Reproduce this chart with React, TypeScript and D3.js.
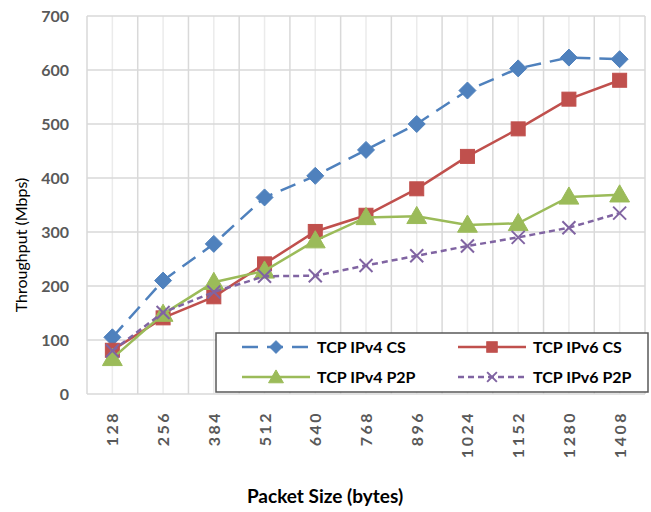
import React from "react";
import * as d3 from "d3";

const categories = ["128", "256", "384", "512", "640", "768", "896", "1024", "1152", "1280", "1408"];
const ipv4CS = [105, 210, 278, 364, 404, 452, 500, 562, 603, 623, 620];
const ipv6CS = [81, 141, 180, 241, 301, 331, 380, 440, 491, 546, 581];
const ipv4P2P = [66, 148, 207, 228, 284, 327, 329, 313, 316, 365, 369];
const ipv6P2P = [80, 151, 189, 218, 219, 238, 256, 274, 290, 308, 335];
const yTicks = [0, 100, 200, 300, 400, 500, 600, 700];

const W = 651, H = 512;
const left = 87, right = 645, top = 16, bottom = 394;

const x = d3.scaleBand<string>().domain(categories).range([left, right]).padding(0);
const y = d3.scaleLinear().domain([0, 700]).range([bottom, top]);

type S = { name: string; values: number[]; color: string; dash: string; marker: string; sw: number };
const series: S[] = [
  { name: "TCP IPv4 CS", values: ipv4CS, color: "#4f81bd", dash: "16,9", marker: "diamond", sw: 2.5 },
  { name: "TCP IPv6 CS", values: ipv6CS, color: "#c0504d", dash: "", marker: "square", sw: 2.5 },
  { name: "TCP IPv4 P2P", values: ipv4P2P, color: "#9bbb59", dash: "", marker: "triangle", sw: 2.5 },
  { name: "TCP IPv6 P2P", values: ipv6P2P, color: "#8064a2", dash: "6,4", marker: "x", sw: 2.5 },
];

function Marker({ kind, color, cx, cy, scale = 1 }: { kind: string; color: string; cx: number; cy: number; scale?: number }) {
  if (kind === "x") {
    const r = 6.5 * scale;
    return (
      <g transform={`translate(${cx},${cy})`} stroke={color} strokeWidth={2}>
        <line x1={-r} y1={-r} x2={r} y2={r} />
        <line x1={-r} y1={r} x2={r} y2={-r} />
      </g>
    );
  }
  if (kind === "diamond") {
    const r = 8.5 * scale;
    return <path d={`M0,${-r}L${r},0L0,${r}L${-r},0Z`} transform={`translate(${cx},${cy})`} fill={color} stroke={color} strokeWidth={1} />;
  }
  if (kind === "square") {
    const r = 7 * scale;
    return <rect x={cx - r} y={cy - r} width={2 * r} height={2 * r} fill={color} stroke={color} strokeWidth={1} />;
  }
  const path = d3.symbol().type(d3.symbolTriangle).size(170 * scale * scale)()!;
  return <path d={path} transform={`translate(${cx},${cy + 1.5})`} fill={color} stroke={color} strokeWidth={1} />;
}

export default function App() {
  const line = d3
    .line<number>()
    .x((_, i) => x(categories[i])! + x.bandwidth() / 2)
    .y((d) => y(d));
  const font = "Lato, 'Open Sans', sans-serif";
  const legendRows = [
    [series[0], series[1]],
    [series[2], series[3]],
  ];
  const colX = [242, 458];
  const rowY = [347, 377];
  return (
    <svg width={W} height={H} style={{ position: "absolute", left: 0, top: 0, background: "#fff" }} fontFamily={font}>
      {categories.map((c) => (
        <line key={"vc" + c} x1={x(c)! + x.bandwidth() / 2} x2={x(c)! + x.bandwidth() / 2} y1={top} y2={bottom} stroke="#ebebeb" strokeWidth={1.5} />
      ))}
      {categories.concat(["end"]).map((c, i) => {
        const xx = i < categories.length ? x(c)! : right;
        return <line key={"vb" + i} x1={xx} x2={xx} y1={top} y2={bottom} stroke="#d9d9d9" strokeWidth={1.5} />;
      })}
      {yTicks.map((t) => (
        <line key={"h" + t} x1={left} x2={right} y1={y(t)} y2={y(t)} stroke="#d9d9d9" strokeWidth={1.5} />
      ))}
      {yTicks.map((t) => (
        <text key={"yt" + t} x={69} y={y(t)} dy="0.36em" textAnchor="end" fontSize={16} fontWeight="bold" fill="#595959">
          {t}
        </text>
      ))}
      {categories.map((c) => {
        const cx = x(c)! + x.bandwidth() / 2;
        return (
          <text key={"xt" + c} transform={`translate(${cx + 6},${411}) rotate(-90)`} textAnchor="end" fontSize={16} fontWeight="bold" fill="#595959" letterSpacing={2.5}>
            {c}
          </text>
        );
      })}
      <text transform="translate(27,245) rotate(-90)" textAnchor="middle" fontSize={16} fill="#000">
        Throughput (Mbps)
      </text>
      <text x={325} y={503} textAnchor="middle" fontSize={19} fontWeight="bold" fill="#000">
        Packet Size (bytes)
      </text>
      {series.map((s) => (
        <g key={s.name}>
          <path d={line(s.values)!} fill="none" stroke={s.color} strokeWidth={s.sw} strokeDasharray={s.dash || undefined} />
          {s.values.map((v, i) => (
            <Marker key={i} kind={s.marker} color={s.color} cx={x(categories[i])! + x.bandwidth() / 2} cy={y(v)} />
          ))}
        </g>
      ))}
      <rect x={216} y={333} width={432} height={59} fill="#fff" stroke="#595959" strokeWidth={1.5} />
      {legendRows.map((row, ri) =>
        row.map((s, ci) => (
          <g key={s.name}>
            <line x1={colX[ci]} x2={colX[ci] + 68} y1={rowY[ri]} y2={rowY[ri]} stroke={s.color} strokeWidth={2.5} strokeDasharray={s.dash || undefined} />
            <Marker kind={s.marker} color={s.color} cx={colX[ci] + 34} cy={rowY[ri]} scale={0.75} />
            <text x={colX[ci] + 75} y={rowY[ri]} dy="0.36em" fontSize={16} fontWeight="bold" fill="#000">
              {s.name}
            </text>
          </g>
        ))
      )}
    </svg>
  );
}
